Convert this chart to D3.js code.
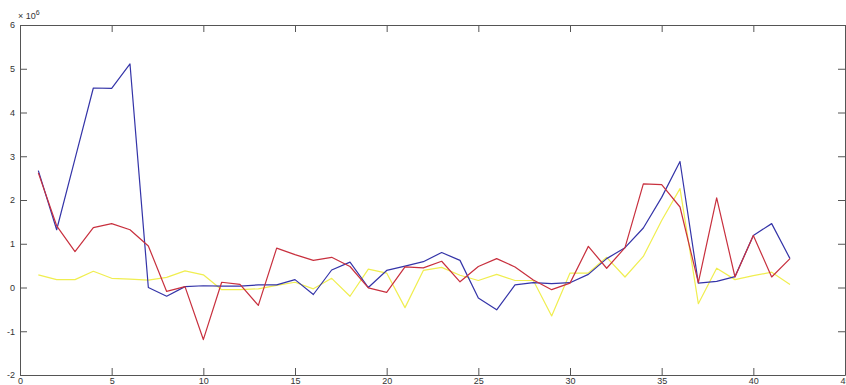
<!DOCTYPE html>
<html>
<head>
<meta charset="utf-8">
<script src="https://cdn.jsdelivr.net/npm/d3@7"></script>
<style>
  body { margin: 0; background: #fff; }
  svg { display: block; }
  .axis text { font-family: "Liberation Sans", Arial, sans-serif; font-size: 9px; fill: #333; }
  .axis line, .axis path { stroke: #555; }
</style>
</head>
<body>
<svg id="chart" width="846" height="385"></svg>
<script>
// sample index (x) and the three series, in units of 10^6
var xVals = [1, 2, 3, 4, 5, 6, 7, 8, 9, 10, 11, 12, 13, 14, 15, 16, 17, 18, 19, 20, 21,
             22, 23, 24, 25, 26, 27, 28, 29, 30, 31, 32, 33, 34, 35, 36, 37, 38, 39, 40, 41, 42];

var blueVals = [2.67, 1.32, 2.94, 4.56, 4.55, 5.11, 0.00, -0.20, 0.02, 0.04, 0.03, 0.03, 0.06, 0.06,
                0.18, -0.16, 0.40, 0.58, 0.00, 0.39, 0.49, 0.59, 0.80, 0.62, -0.24, -0.51, 0.06, 0.11,
                0.09, 0.11, 0.30, 0.66, 0.91, 1.36, 2.06, 2.88, 0.10, 0.14, 0.25, 1.19, 1.46, 0.66];

var redVals = [2.62, 1.41, 0.82, 1.37, 1.46, 1.32, 0.95, -0.09, 0.02, -1.19, 0.12, 0.07, -0.41, 0.90,
               0.75, 0.62, 0.69, 0.48, -0.01, -0.11, 0.47, 0.45, 0.60, 0.13, 0.48, 0.66, 0.47, 0.17,
               -0.05, 0.10, 0.94, 0.44, 0.91, 2.37, 2.35, 1.84, 0.11, 2.05, 0.24, 1.19, 0.24, 0.66];

var yellowVals = [0.29, 0.18, 0.18, 0.37, 0.21, 0.19, 0.17, 0.23, 0.38, 0.29, -0.05, -0.05, -0.03, 0.05,
                  0.12, -0.03, 0.21, -0.20, 0.42, 0.33, -0.46, 0.39, 0.46, 0.28, 0.16, 0.30, 0.16, 0.16,
                  -0.65, 0.33, 0.33, 0.69, 0.24, 0.71, 1.53, 2.26, -0.37, 0.44, 0.18, 0.27, 0.35, 0.07];

var xTicks = [0, 5, 10, 15, 20, 25, 30, 35, 40, 45];
var yTicks = [-2, -1, 0, 1, 2, 3, 4, 5, 6];

// plot box
var boxLeft = 20, boxRight = 845, boxTop = 25, boxBottom = 375;

var svg = d3.select("#chart");

var x = d3.scaleLinear().domain([0, 45]).range([boxLeft, boxRight]);
var y = d3.scaleLinear().domain([-2, 6]).range([boxBottom, boxTop]);

// axes, MATLAB style: ticks pointing inward on all four sides
svg.append("g")
    .attr("class", "axis")
    .attr("transform", "translate(0," + boxBottom + ")")
    .call(d3.axisBottom(x).tickValues(xTicks).tickSize(-7).tickSizeOuter(0).tickPadding(3)
        .tickFormat(function (d) { return String(d); }));

svg.append("g")
    .attr("class", "axis")
    .attr("transform", "translate(0," + boxTop + ")")
    .call(d3.axisTop(x).tickValues(xTicks).tickSize(-7).tickSizeOuter(0).tickFormat(""));

svg.append("g")
    .attr("class", "axis")
    .attr("transform", "translate(" + boxLeft + ",0)")
    .call(d3.axisLeft(y).tickValues(yTicks).tickSize(-7).tickSizeOuter(0).tickPadding(5)
        .tickFormat(function (d) { return String(d); }));

svg.append("g")
    .attr("class", "axis")
    .attr("transform", "translate(" + boxRight + ",0)")
    .call(d3.axisRight(y).tickValues(yTicks).tickSize(-7).tickSizeOuter(0).tickFormat(""));

// exponent label
var expLabel = svg.append("text")
    .attr("x", boxLeft - 2)
    .attr("y", 19)
    .style("font-family", "Liberation Sans, Arial, sans-serif")
    .style("font-size", "9px")
    .style("fill", "#333");
expLabel.append("tspan").text("\u00d7 10");
expLabel.append("tspan").attr("dy", -4).style("font-size", "7px").text("6");

// lines
var line = d3.line()
    .x(function (d, i) { return x(xVals[i]); })
    .y(function (d) { return y(d); });

var series = [
    { vals: yellowVals, color: "#f0ee50" },
    { vals: blueVals, color: "#3434a8" },
    { vals: redVals, color: "#c8303e" }
];

series.forEach(function (s) {
    svg.append("path")
        .datum(s.vals)
        .attr("fill", "none")
        .attr("stroke", s.color)
        .attr("stroke-width", 1.2)
        .attr("stroke-linejoin", "round")
        .attr("d", line);
});
</script>
</body>
</html>
